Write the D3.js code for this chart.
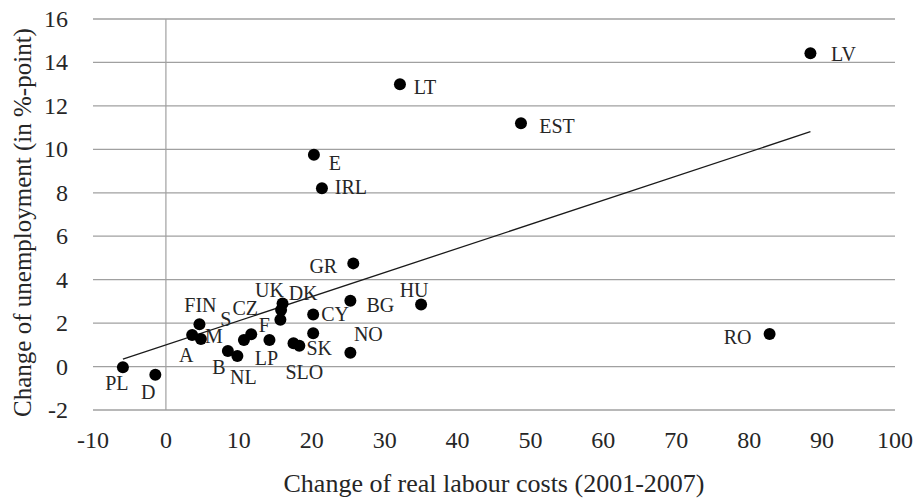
<html lang="en">
<head>
<meta charset="UTF-8">
<title>Labour costs vs unemployment</title>
<script src="https://d3js.org/d3.v7.min.js"></script>
<style>
  body { margin: 0; background: #fff; }
  text { font-family: "Liberation Serif", "DejaVu Serif", serif; fill: #262626; }
</style>
</head>
<body>
<div id="chart"></div>
<script>
// country codes, labour cost change (x) and unemployment change (y)
var countries = ["PL","D","A","M","FIN","B","NL","S","CZ","LP","UK","DK","F","CY","SK","","SLO","NO","BG","HU","GR","IRL","E","LT","EST","LV","RO"];
var labourCosts = [-5.9,-1.45,3.6,4.8,4.6,8.5,9.8,10.7,11.7,14.2,16.0,15.8,15.7,20.2,20.2,17.5,18.3,25.3,25.3,35.0,25.7,21.4,20.3,32.1,48.7,88.4,82.8];
var unemployment = [-0.03,-0.38,1.45,1.27,1.95,0.72,0.49,1.22,1.49,1.22,2.9,2.6,2.15,2.4,1.53,1.07,0.96,0.64,3.03,2.86,4.75,8.21,9.75,13.0,11.2,14.42,1.5];
var xTicks = [-10,0,10,20,30,40,50,60,70,80,90,100];
var yTicks = [-2,0,2,4,6,8,10,12,14,16];

// label placement (pixel offset of label centre from its dot)
var labelOffsets = [[-6,16],[-7,17],[-6,20],[13,-3],[1,-19],[-9,16],[6,21],[-18,-21],[-6,-26],[-3,18],[-13,-14],[22,-17],[-16,5],[22,0],[6,15],[0,0],[5,26],[18,-19],[30,4],[-7,-14],[-30,3],[29,-1],[21,8],[25,3],[36,3],[33,1],[-32,3]];

var W = 921, H = 500;
var margin = {top: 19, right: 26, bottom: 90, left: 93};
var width = W - margin.left - margin.right,
    height = H - margin.top - margin.bottom;

var svg = d3.select("#chart").append("svg")
    .attr("width", W).attr("height", H);
var g = svg.append("g")
    .attr("transform", "translate(" + margin.left + "," + margin.top + ")");

var x = d3.scaleLinear().domain([-10, 100]).range([0, width]);
var y = d3.scaleLinear().domain([-2, 16]).range([height, 0]);

// horizontal gridlines
g.selectAll(".grid").data(yTicks).enter().append("line")
    .attr("x1", 0).attr("x2", width)
    .attr("y1", d => y(d)).attr("y2", d => y(d))
    .attr("stroke", "#a0a0a0").attr("stroke-width", 1.3);

// vertical axis at x = 0
g.append("line")
    .attr("x1", x(0)).attr("x2", x(0))
    .attr("y1", 0).attr("y2", height)
    .attr("stroke", "#a0a0a0").attr("stroke-width", 1.2);

// tick labels
g.selectAll(".ytick").data(yTicks).enter().append("text")
    .attr("x", -25).attr("y", d => y(d))
    .attr("text-anchor", "end").attr("dominant-baseline", "central")
    .style("font-size", "24px")
    .text(d => d);

g.selectAll(".xtick").data(xTicks).enter().append("text")
    .attr("x", d => x(d)).attr("y", height + 30)
    .attr("text-anchor", "middle").attr("dominant-baseline", "central")
    .style("font-size", "24px")
    .text(d => d);

// axis titles
g.append("text")
    .attr("x", width / 2).attr("y", height + 73)
    .attr("text-anchor", "middle").attr("dominant-baseline", "central")
    .style("font-size", "26px")
    .text("Change of real labour costs (2001-2007)");

g.append("text")
    .attr("transform", "translate(" + (-71) + "," + (height / 2 + 8) + ") rotate(-90)")
    .attr("text-anchor", "middle").attr("dominant-baseline", "central")
    .style("font-size", "25px")
    .text("Change of unemployment (in %-point)");

var data = countries.map(function(c, i) {
  return {name: c, x: labourCosts[i], y: unemployment[i], off: labelOffsets[i]};
});

// linear trendline (least squares), drawn over the data range
var mx = d3.mean(data, d => d.x), my = d3.mean(data, d => d.y);
var sxy = d3.sum(data, d => (d.x - mx) * (d.y - my));
var sxx = d3.sum(data, d => (d.x - mx) * (d.x - mx));
var slope = sxy / sxx, icpt = my - slope * mx;
var xr = d3.extent(data, d => d.x);
g.append("path")
    .datum(xr.map(v => [v, icpt + slope * v]))
    .attr("fill", "none").attr("stroke", "#1a1a1a").attr("stroke-width", 1.3)
    .attr("d", d3.line().x(d => x(d[0])).y(d => y(d[1])));

// points
g.selectAll(".dot").data(data).enter().append("circle")
    .attr("cx", d => x(d.x)).attr("cy", d => y(d.y))
    .attr("r", 6).attr("fill", "#000");

// labels
g.selectAll(".lbl").data(data).enter().append("text")
    .attr("x", d => x(d.x) + d.off[0]).attr("y", d => y(d.y) + d.off[1])
    .attr("text-anchor", "middle").attr("dominant-baseline", "central")
    .style("font-size", "20px")
    .text(d => d.name);
</script>
</body>
</html>
